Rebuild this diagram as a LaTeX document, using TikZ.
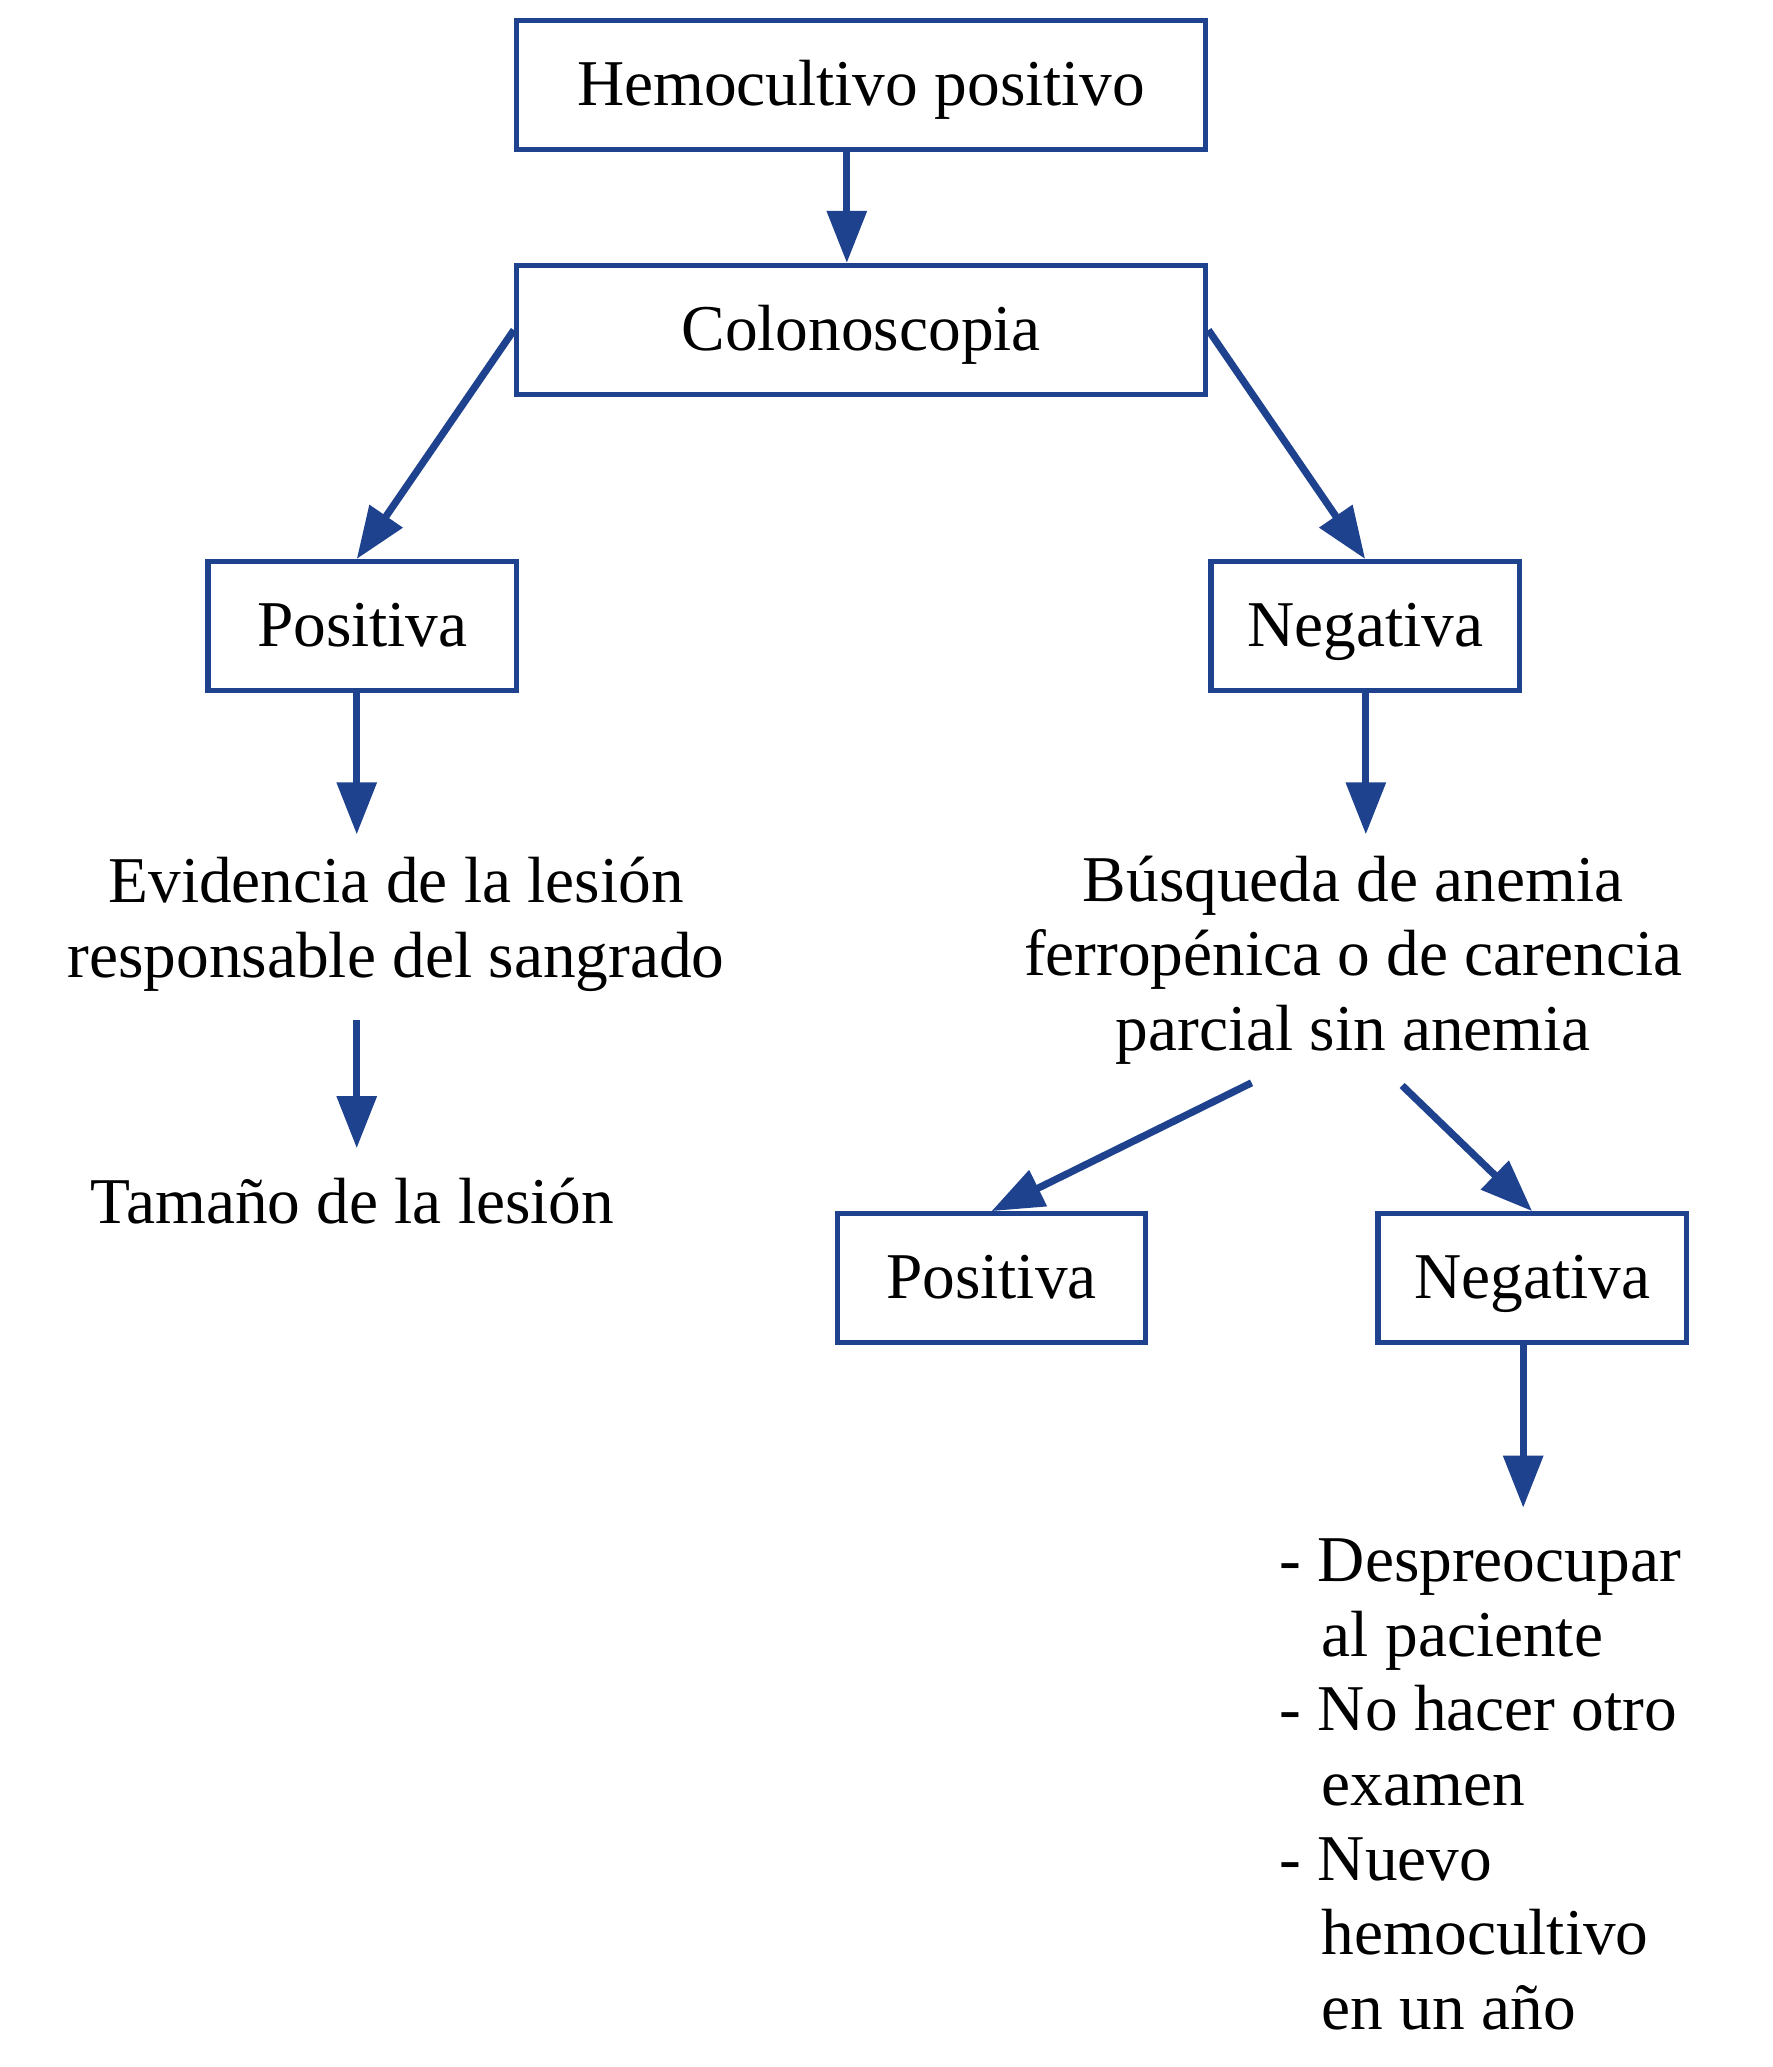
\documentclass[tikz,border=0pt]{standalone}
\usepackage{fontspec}
\setmainfont{Liberation Serif}
\usetikzlibrary{arrows.meta,calc}
\definecolor{fcblue}{RGB}{31,66,142}
\begin{document}
\begin{tikzpicture}[x=0.5pt,y=-0.5pt,
  font=\fontsize{24.5pt}{28pt}\selectfont,
  box/.style={draw=fcblue, line width=2pt, minimum height=48.3pt, inner sep=0pt,
    text height=16.5pt, text depth=1.5pt},
  widebox/.style={box, minimum width=258.4pt},
  smallbox/.style={box, minimum width=115.7pt},
  arr/.style={draw=fcblue, line width=2.7pt, -{Triangle[length=19.5pt,width=14.5pt]}},
  txt/.style={align=center, inner sep=0pt}]
\useasboundingbox (0,0) rectangle (1329,1550);
% boxes
\node[widebox] (hemo) at (645.75,63.75) {Hemocultivo positivo};
\node[widebox] (colo) at (645.75,247.5) {Colonoscopia};
\node[smallbox] (posA) at (271.7,469.5) {Positiva};
\node[smallbox] (negA) at (1023.7,469.5) {Negativa};
\node[smallbox] (posB) at (743.5,958.5) {Positiva};
\node[smallbox] (negB) at (1148.9,958.5) {Negativa};
% free texts
\node[txt] (evid) at (297,693) {Evidencia de la lesión\\responsable del sangrado};
\node[txt] (tam) at (264.3,901) {Tamaño de la lesión};
\node[txt] (busq) at (1014.75,720) {Búsqueda de anemia\\ferropénica o de carencia\\parcial sin anemia};
\node[align=left, inner sep=0pt, anchor=west] (list) at (959.3,1338)
  {- Despreocupar\\\hphantom{- }\kern1.5pt al paciente\\- No hacer otro\\\hphantom{- }\kern1.5pt examen\\- Nuevo\\\hphantom{- }\kern1.5pt hemocultivo\\\hphantom{- }\kern1.5pt en un año};
% coordinates
\coordinate (c1) at (635,199);
\coordinate (pa) at (267.5,469.5);
\coordinate (e1) at (267.5,625.7);
\coordinate (e2s) at (267.5,765);
\coordinate (e2t) at (267.5,861);
\coordinate (n1) at (1024.2,625.7);
\coordinate (b1) at (938.5,812);
\coordinate (b2) at (1051.4,814);
\coordinate (n2) at (1142.2,1130.6);
% connectors
\draw[arr] (hemo.south -| c1) -- (colo.north -| c1);
\draw[arr] (colo.west) -- (posA.north -| pa);
\draw[arr] (colo.east) -- (negA.north);
\draw[arr] (posA.south -| e1) -- (e1);
\draw[arr] (e2s) -- (e2t);
\draw[arr] (negA.south -| n1) -- (n1);
\draw[arr] (b1) -- (posB.north);
\draw[arr] (b2) -- (negB.north);
\draw[arr] (negB.south -| n2) -- (n2);
\end{tikzpicture}
\end{document}
